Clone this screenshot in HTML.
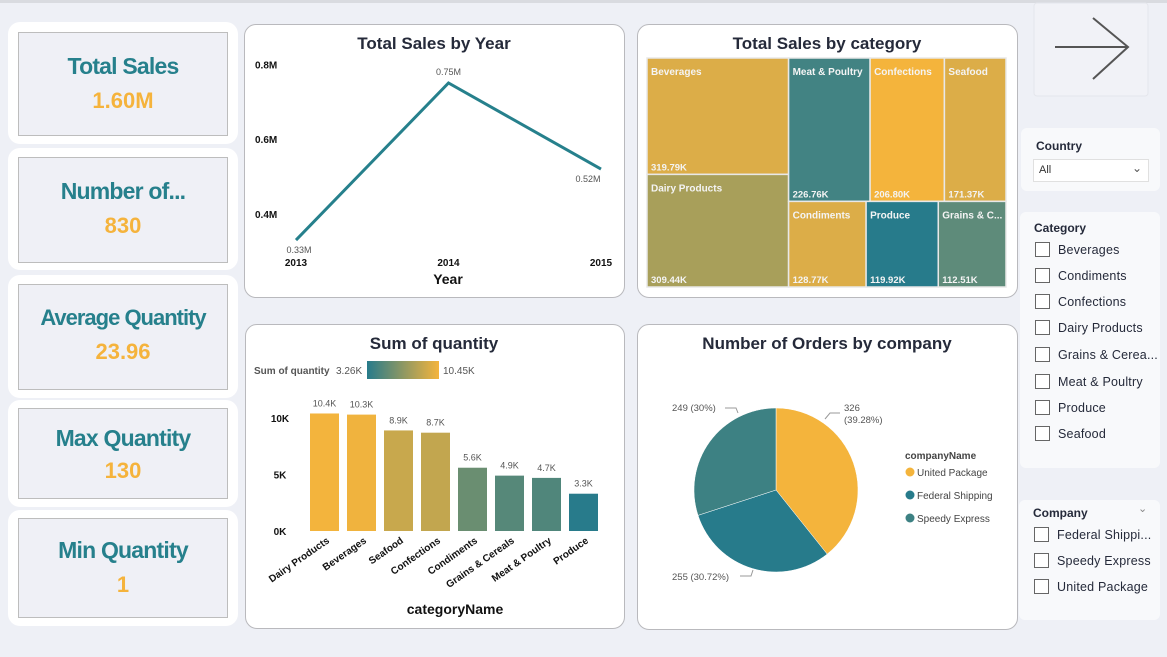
<!DOCTYPE html>
<html><head><meta charset="utf-8">
<style>
body{margin:0;width:1167px;height:657px;background:#eef0f6;font-family:"Liberation Sans",sans-serif;position:relative;overflow:hidden}
.abs{position:absolute}
.kp{position:absolute;left:8px;width:230px;background:#fff;border-radius:12px}
.kb{position:absolute;left:10px;right:10px;background:#eff0f6;border:1px solid #bdbdbd;text-align:center}
.kt{color:#26808c;font-weight:bold;font-size:23px;letter-spacing:-0.8px;white-space:nowrap}
.kv{color:#f5b33c;font-weight:bold;font-size:22px;margin-top:8px}
.card{position:absolute;background:#fff;border:1px solid #b9b9bd;border-radius:12px}
.sl{position:absolute;background:#f8f9fb;border-radius:6px}
.sl .t{position:absolute;font-weight:bold;font-size:12px;color:#252a3a}
.it{position:absolute;left:15px;font-size:12.5px;color:#252a3a;letter-spacing:0.2px;white-space:nowrap}
.it i{display:inline-block;width:13px;height:13px;border:1px solid #666;vertical-align:-3px;margin-right:8px;background:#fff}
</style></head><body>
<div class="abs" style="left:0;top:0;width:1167px;height:3px;background:#d9dbe0"></div>

<div class="kp" style="top:22px;height:122px"><div class="kb" style="top:10px;height:102px"><div class="kt" style="margin-top:20px">Total Sales</div><div class="kv">1.60M</div></div></div>
<div class="kp" style="top:148px;height:122px"><div class="kb" style="top:9px;height:104px"><div class="kt" style="margin-top:20px">Number of...</div><div class="kv">830</div></div></div>
<div class="kp" style="top:275px;height:123px"><div class="kb" style="top:9px;height:104px"><div class="kt" style="margin-top:20px;font-size:22px;letter-spacing:-1px">Average Quantity</div><div class="kv">23.96</div></div></div>
<div class="kp" style="top:400px;height:107px"><div class="kb" style="top:8px;height:89px"><div class="kt" style="margin-top:16px">Max Quantity</div><div class="kv" style="margin-top:6px">130</div></div></div>
<div class="kp" style="top:510px;height:116px"><div class="kb" style="top:8px;height:98px"><div class="kt" style="margin-top:18px">Min Quantity</div><div class="kv" style="margin-top:8px">1</div></div></div>

<div class="card" style="left:244px;top:24px;width:379px;height:272px"></div>
<div class="card" style="left:637px;top:24px;width:379px;height:272px"></div>
<div class="card" style="left:245px;top:324px;width:378px;height:303px"></div>
<div class="card" style="left:637px;top:324px;width:379px;height:304px"></div>

<svg class="abs" style="left:0;top:0" width="1167" height="657" id="svg" font-family="Liberation Sans, sans-serif">
<text x="434" y="49" text-anchor="middle" font-size="17" font-weight="bold" fill="#252a3a">Total Sales by Year</text>
<text x="827" y="49" text-anchor="middle" font-size="17" font-weight="bold" fill="#252a3a">Total Sales by category</text>
<text x="434" y="349" text-anchor="middle" font-size="17" font-weight="bold" fill="#252a3a">Sum of quantity</text>
<text x="827" y="349" text-anchor="middle" font-size="17" font-weight="bold" fill="#252a3a">Number of Orders by company</text>
<text x="448" y="284" text-anchor="middle" font-size="14" font-weight="bold" fill="#111">Year</text>
<text x="455" y="614" text-anchor="middle" font-size="14" font-weight="bold" fill="#111">categoryName</text>
<defs><linearGradient id="gr"><stop offset="0" stop-color="#277b8b"/><stop offset="1" stop-color="#f4b43c"/></linearGradient></defs>
<text x="254" y="374" font-size="10" font-weight="bold" fill="#555">Sum of quantity</text>
<text x="336" y="374" font-size="10" fill="#555">3.26K</text>
<rect x="367" y="361" width="72" height="18" fill="url(#gr)"/>
<text x="443" y="374" font-size="10" fill="#555">10.45K</text>
<text x="905" y="459" font-size="10" font-weight="bold" fill="#444">companyName</text>
<g id="line"></g><g id="tree"></g><g id="bars"></g><g id="pie"></g>
<g><rect x="1034" y="3" width="114" height="93" rx="3" fill="#f1f2f7" stroke="#e4e6ec"/><path d="M1055 47H1128M1093 18L1128 47L1093 79" stroke="#555" stroke-width="2" fill="none"/></g>
</svg>

<div class="sl" style="left:1021px;top:128px;width:139px;height:63px">
<div class="t" style="left:15px;top:11px">Country</div>
<div class="abs" style="left:12px;top:31px;width:114px;height:21px;background:#fff;border:1px solid #e0e0e0;font-size:11px;color:#333"><span style="position:absolute;left:5px;top:4px">All</span><span style="position:absolute;right:6px;top:1px;font-size:12px;color:#555">&#8964;</span></div>
</div>
<div class="sl" style="left:1020px;top:212px;width:140px;height:256px">
<div class="t" style="left:14px;top:9px">Category</div>
<div class="it" style="top:30px"><i></i>Beverages</div>
<div class="it" style="top:56px"><i></i>Condiments</div>
<div class="it" style="top:82px"><i></i>Confections</div>
<div class="it" style="top:108px"><i></i>Dairy Products</div>
<div class="it" style="top:135px"><i></i>Grains &amp; Cerea...</div>
<div class="it" style="top:162px"><i></i>Meat &amp; Poultry</div>
<div class="it" style="top:188px"><i></i>Produce</div>
<div class="it" style="top:214px"><i></i>Seafood</div>
</div>
<div class="sl" style="left:1019px;top:500px;width:141px;height:120px">
<div class="t" style="left:14px;top:6px">Company</div>
<div class="abs" style="left:119px;top:2px;font-size:11px;color:#888">&#8964;</div>
<div class="it" style="top:27px"><i></i>Federal Shippi...</div>
<div class="it" style="top:53px"><i></i>Speedy Express</div>
<div class="it" style="top:79px"><i></i>United Package</div>
</div>

<script>
const years=['2013','2014','2015'];
const yearSales=[0.33,0.75,0.52];
const yTicks=[0.4,0.6,0.8];
const treeCats=['Beverages','Dairy Products','Meat & Poultry','Confections','Seafood','Condiments','Produce','Grains & C...'];
const treeVals=[319.79,309.44,226.76,206.80,171.37,128.77,119.92,112.51];
const treeColors=['#dcad48','#a89f5a','#428383','#f4b43c','#dcad48','#dcad48','#277b8b','#5e8b7a'];
const barCats=['Dairy Products','Beverages','Seafood','Confections','Condiments','Grains & Cereals','Meat & Poultry','Produce'];
const barVals=[10.4,10.3,8.9,8.7,5.6,4.9,4.7,3.3];
const barTicks=[0,5,10];
const pieCats=['United Package','Federal Shipping','Speedy Express'];
const pieVals=[326,255,249];
const pieColors=['#f4b43c','#277b8b','#3d8183'];

const NS='http://www.w3.org/2000/svg';
function mk(p,t,a,txt){const e=document.createElementNS(NS,t);for(const k in a)e.setAttribute(k,a[k]);if(txt!=null)e.textContent=txt;p.appendChild(e);return e;}

// line chart
const Lg=document.getElementById('line');
const lx=i=>296+i*152.5, ly=v=>83+(0.75-v)*374;
yTicks.forEach(t=>{const e=mk(Lg,'text',{x:255,y:ly(t)+4,'font-size':10,'font-weight':'bold',fill:'#111'},t.toFixed(1)+'M');

});
years.forEach((y,i)=>{const e=mk(Lg,'text',{x:lx(i),y:266,'text-anchor':'middle','font-size':10,'font-weight':'bold',fill:'#111'},y);

});
const ln=mk(Lg,'polyline',{points:yearSales.map((v,i)=>lx(i)+','+ly(v)).join(' '),fill:'none',stroke:'#26808c','stroke-width':3});


yearSales.forEach((v,i)=>{const dy=i==1?-8:13;const e=mk(Lg,'text',{x:lx(i)+(i==2?-13:(i==0?3:0)),y:ly(v)+dy,'text-anchor':'middle','font-size':9,fill:'#555'},v.toFixed(2)+'M');

});

// treemap
const Tg=document.getElementById('tree');
const X0=647,Y0=58,TW=359,TH=229;
const tot=treeVals.reduce((a,b)=>a+b,0);
const c1=treeVals[0]+treeVals[1], topSum=treeVals[2]+treeVals[3]+treeVals[4], botSum=treeVals[5]+treeVals[6]+treeVals[7];
const w1=TW*c1/tot, restW=TW-w1, ht=TH*topSum/(topSum+botSum);
const rects=[];
rects[0]=[X0,Y0,w1,TH*treeVals[0]/c1];
rects[1]=[X0,Y0+TH*treeVals[0]/c1,w1,TH*treeVals[1]/c1];
let xx=X0+w1;[2,3,4].forEach(i=>{const w=restW*treeVals[i]/topSum;rects[i]=[xx,Y0,w,ht];xx+=w;});
xx=X0+w1;[5,6,7].forEach(i=>{const w=restW*treeVals[i]/botSum;rects[i]=[xx,Y0+ht,w,TH-ht];xx+=w;});
rects.forEach((r,i)=>{const e=mk(Tg,'rect',{x:r[0],y:r[1],width:r[2],height:r[3],fill:treeColors[i],stroke:'#e8e8e8','stroke-width':1.5});


const a=mk(Tg,'text',{x:r[0]+4,y:r[1]+17,'font-size':10,'font-weight':'bold',fill:'#f4f4f4'},treeCats[i]);


const b=mk(Tg,'text',{x:r[0]+4,y:r[1]+r[3]-4,'font-size':9.5,'font-weight':'bold',fill:'#f4f4f4'},treeVals[i].toFixed(2)+'K');

});

// bars
const Bg=document.getElementById('bars');
const by=v=>531-v*11.3, bx=i=>310+i*37;
function col(v){const t=(v-3.26)/(10.45-3.26);const a=[39,123,139],b=[244,180,60];return 'rgb('+a.map((c,k)=>Math.round(c+(b[k]-c)*t)).join(',')+')';}
barTicks.forEach(t=>{const e=mk(Bg,'text',{x:280,y:by(t)+4,'text-anchor':'middle','font-size':10,'font-weight':'bold',fill:'#111'},t+'K');

});
barVals.forEach((v,i)=>{const r=mk(Bg,'rect',{x:bx(i),y:by(v),width:29,height:v*11.3,fill:col(v)});


const l=mk(Bg,'text',{x:bx(i)+14.5,y:by(v)-7,'text-anchor':'middle','font-size':9,fill:'#555'},v.toFixed(1)+'K');


const c=mk(Bg,'text',{x:bx(i)+20,y:542,'text-anchor':'end','font-size':10,'font-weight':'bold',fill:'#111',transform:'rotate(-35 '+(bx(i)+20)+' 542)'},barCats[i]);

});

// pie
const Pg=document.getElementById('pie');
const cx=776,cy=490,R=82;const ps=pieVals.reduce((a,b)=>a+b,0);
let ang=0;
pieVals.forEach((v,i)=>{const a0=ang,a1=ang+v/ps*2*Math.PI;ang=a1;
const p=(a)=>[cx+R*Math.sin(a),cy-R*Math.cos(a)];const s=p(a0),e=p(a1);
const path=mk(Pg,'path',{d:`M${cx},${cy}L${s[0]},${s[1]}A${R},${R} 0 ${a1-a0>Math.PI?1:0} 1 ${e[0]},${e[1]}Z`,fill:pieColors[i],stroke:'#fff','stroke-width':0.5});


const ly2=472+i*23;
const d=mk(Pg,'circle',{cx:910,cy:ly2,r:4.5,fill:pieColors[i]});


const t=mk(Pg,'text',{x:917,y:ly2+4,'font-size':10,fill:'#444'},pieCats[i]);

});
const pct=v=>(Math.round(v/ps*10000)/100).toString();
const lab=[[844,411,'start',pieVals[0]+''],[844,423,'start','('+pct(pieVals[0])+'%)'],[672,580,'start',pieVals[1]+' ('+pct(pieVals[1])+'%)'],[672,411,'start',pieVals[2]+' ('+Math.round(pieVals[2]/ps*100)+'%)']];
lab.forEach(l=>{const e=mk(Pg,'text',{x:l[0],y:l[1],'text-anchor':l[2],'font-size':9.5,fill:'#555'},l[3]);

});
mk(Pg,'path',{d:'M825 419L830 413L840 413M725 408L736 408L738 413M740 576L751 576L753 570',stroke:'#999',fill:'none'});
</script>
</body></html>
